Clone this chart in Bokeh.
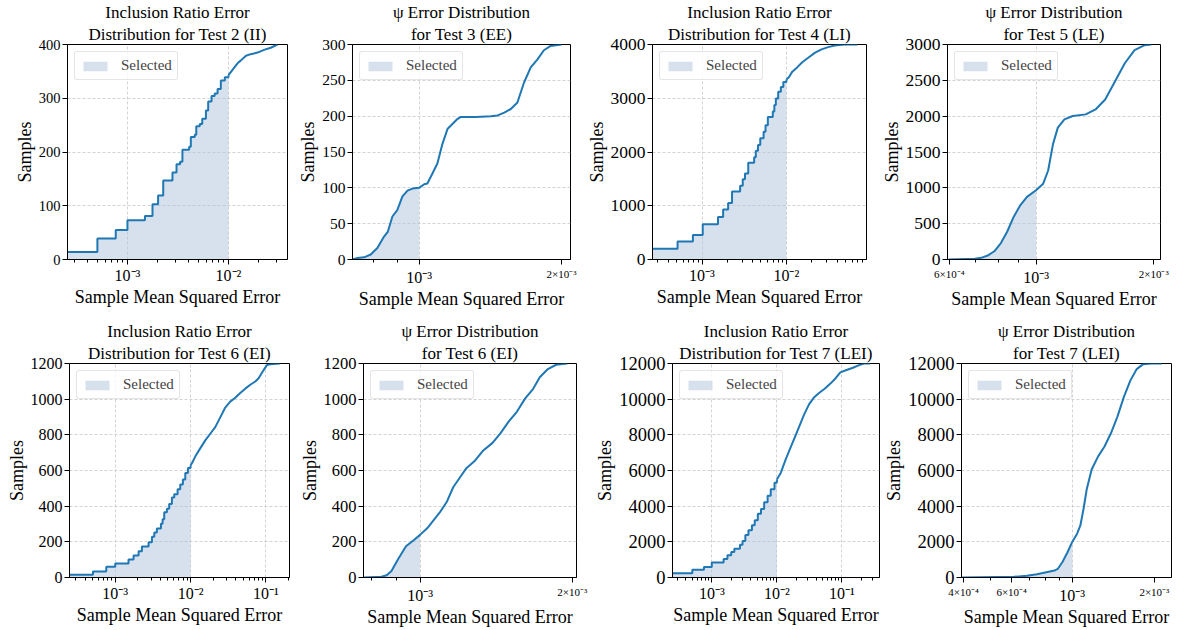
import numpy as np
from bokeh.plotting import figure
from bokeh.models import Range1d, FixedTicker, CustomJSTickFormatter, Title, LogAxis
from bokeh.layouts import row, column
from bokeh.embed import file_html
from bokeh.resources import INLINE

FONT = "Liberation Serif"
BLUE = "#1f77b4"
FILL = "#b0c4de"

# ---------------- data ----------------
# Test 2 (II) inclusion ratio error, step CDF (value holds from x onward)
t2_x = [2.0e-4, 5.04e-4, 7.66e-4, 1.0e-3, 1.49e-3, 1.77e-3, 2.01e-3, 2.26e-3, 2.79e-3, 3.06e-3,
        3.32e-3, 3.5e-3, 4.08e-3, 4.24e-3, 4.64e-3, 4.8e-3, 5.2e-3, 5.5e-3, 5.98e-3, 6.3e-3,
        6.8e-3, 7.3e-3, 7.8e-3, 8.4e-3, 9.2e-3, 1.0e-2, 1.14e-2, 1.23e-2, 1.32e-2, 1.49e-2,
        1.66e-2, 1.94e-2, 2.25e-2, 2.62e-2, 3.05e-2]
t2_y = [14, 39, 55, 73, 81, 103, 119, 147, 162, 177,
        182, 204, 210, 228, 232, 248, 252, 262, 277, 294,
        304, 309, 317, 333, 339, 343, 357, 365, 370, 379,
        382, 385, 390, 394, 400]

# Test 3 (EE) psi error, smooth CDF
t3_x = [7.23e-4, 7.41e-4, 7.65e-4, 7.9e-4, 8.16e-4, 8.43e-4, 8.59e-4, 8.78e-4, 8.99e-4, 9.22e-4,
        9.45e-4, 9.68e-4, 1.0e-3, 1.025e-3, 1.041e-3, 1.067e-3, 1.093e-3, 1.12e-3, 1.148e-3, 1.176e-3,
        1.205e-3, 1.225e-3, 1.32e-3, 1.418e-3, 1.466e-3, 1.514e-3, 1.563e-3, 1.614e-3, 1.64e-3, 1.667e-3,
        1.722e-3, 1.778e-3, 1.836e-3, 1.897e-3, 2.0e-3]
t3_y = [0, 2, 3, 7, 16, 32, 39, 60, 69, 88,
        96, 99, 100, 105, 106, 120, 134, 161, 182, 189,
        196, 199, 199, 200, 201, 205, 210, 219, 233, 247,
        268, 279, 292, 298, 300]

# Test 4 (LI) inclusion ratio error, step CDF
t4_x = [2.0e-4, 5.13e-4, 7.8e-4, 1.02e-3, 1.546e-3, 1.78e-3, 2.04e-3, 2.27e-3, 2.83e-3, 3.04e-3,
        3.23e-3, 3.53e-3, 4.15e-3, 4.34e-3, 4.61e-3, 4.9e-3, 5.37e-3, 5.66e-3, 6.03e-3, 6.9e-3,
        7.2e-3, 7.5e-3, 8.0e-3, 8.6e-3, 9.2e-3, 1.0e-2, 1.07e-2, 1.175e-2, 1.34e-2, 1.53e-2,
        1.83e-2, 2.19e-2, 2.61e-2, 3.12e-2, 3.73e-2, 4.86e-2, 6.95e-2]
t4_y = [200, 334, 456, 657, 790, 930, 1052, 1264, 1374, 1495,
        1599, 1800, 1903, 2024, 2128, 2255, 2377, 2498, 2650, 2754,
        2875, 2997, 3119, 3210, 3301, 3350, 3392, 3495, 3574, 3666,
        3757, 3848, 3909, 3951, 3982, 4000, 4000]

# Test 5 (LE) psi error, smooth CDF
t5_x = [5.97e-4, 6.97e-4, 7.24e-4, 7.52e-4, 7.82e-4, 8.13e-4, 8.44e-4, 8.77e-4, 9.12e-4, 9.48e-4,
        1.0e-3, 1.043e-3, 1.074e-3, 1.105e-3, 1.137e-3, 1.182e-3, 1.241e-3, 1.34e-3, 1.42e-3, 1.503e-3,
        1.592e-3, 1.687e-3, 1.787e-3, 1.896e-3, 1.97e-3]
t5_y = [0, 9, 23, 55, 115, 230, 391, 598, 759, 874,
        966, 1058, 1242, 1610, 1840, 1955, 2002, 2025, 2094, 2232,
        2485, 2738, 2922, 2991, 3000]

# Test 6 (EI) inclusion ratio error, step CDF
t6i_x = [2.0e-4, 5.06e-4, 7.6e-4, 1.0e-3, 1.5e-3, 1.75e-3, 2.04e-3, 2.26e-3, 2.77e-3, 3.07e-3,
         3.3e-3, 3.57e-3, 4.04e-3, 4.25e-3, 4.47e-3, 4.85e-3, 5.2e-3, 5.65e-3, 6.07e-3, 6.72e-3,
         7.29e-3, 7.9e-3, 8.5e-3, 9.22e-3, 1.0e-2, 1.043e-2, 1.153e-2, 1.343e-2, 1.566e-2, 1.824e-2,
         2.125e-2, 2.476e-2, 2.885e-2, 3.36e-2, 3.92e-2, 4.56e-2, 5.32e-2, 6.2e-2, 7.22e-2, 8.0e-2,
         9.32e-2, 0.103, 0.114, 0.152]
t6i_y = [15, 33, 60, 79, 101, 123, 147, 174, 198, 229,
         253, 275, 302, 326, 366, 385, 412, 449, 467, 495,
         522, 550, 586, 614, 630, 641, 678, 724, 769, 806,
         843, 898, 953, 986, 1008, 1035, 1059, 1081, 1099, 1117,
         1163, 1191, 1196, 1200]

# Test 6 (EI) psi error, smooth CDF
t6p_x = [7.73e-4, 8.39e-4, 8.59e-4, 8.78e-4, 9.04e-4, 9.38e-4, 9.74e-4, 1.0e-3, 1.033e-3, 1.064e-3,
         1.096e-3, 1.129e-3, 1.163e-3, 1.199e-3, 1.235e-3, 1.282e-3, 1.33e-3, 1.391e-3, 1.443e-3, 1.497e-3,
         1.554e-3, 1.613e-3, 1.674e-3, 1.725e-3, 1.79e-3, 1.858e-3, 1.955e-3]
t6p_y = [0, 4, 13, 37, 101, 175, 212, 239, 276, 322,
         368, 423, 506, 561, 613, 653, 709, 755, 810, 874,
         929, 1003, 1058, 1123, 1169, 1193, 1200]

# Test 7 (LEI) inclusion ratio error, step CDF
t7i_x = [2.0e-4, 5.02e-4, 7.58e-4, 1.0e-3, 1.52e-3, 1.74e-3, 1.99e-3, 2.22e-3, 2.71e-3, 2.97e-3,
         3.28e-3, 3.66e-3, 4.14e-3, 4.57e-3, 5.1e-3, 5.71e-3, 6.38e-3, 7.21e-3, 8.05e-3, 9.2e-3,
         1.0e-2, 1.148e-2, 1.358e-2, 1.604e-2, 1.894e-2, 2.236e-2, 2.64e-2, 3.12e-2, 3.68e-2, 4.35e-2,
         5.43e-2, 6.78e-2, 8.01e-2, 9.46e-2, 0.118, 0.1475, 0.184, 0.217, 0.2716]
t7i_y = [238, 440, 586, 843, 1044, 1246, 1429, 1612, 1832, 2052,
         2382, 2656, 2931, 3206, 3573, 3847, 4214, 4580, 4947, 5313,
         5500, 5863, 6595, 7237, 7878, 8519, 9160, 9710, 10076, 10314,
         10589, 10901, 11176, 11505, 11634, 11762, 11908, 12000, 12000]

# Test 7 (LEI) psi error, smooth CDF
t7p_x = [3.95e-4, 6.12e-4, 6.83e-4, 7.42e-4, 8.04e-4, 8.61e-4, 8.85e-4, 9.22e-4, 9.6e-4, 1.0e-3,
         1.042e-3, 1.071e-3, 1.1e-3, 1.13e-3, 1.178e-3, 1.244e-3, 1.313e-3, 1.386e-3, 1.463e-3, 1.545e-3,
         1.632e-3, 1.723e-3, 1.819e-3, 1.948e-3, 2.13e-3]
t7p_y = [0, 37, 92, 185, 295, 388, 480, 886, 1403, 1994,
         2455, 2917, 3840, 4948, 6055, 6794, 7348, 8086, 9009, 10117,
         11040, 11686, 11963, 12000, 12000]

titles = [
    ("Inclusion Ratio Error", "Distribution for Test 2 (II)"),
    ("\u03c8 Error Distribution", "for Test 3 (EE)"),
    ("Inclusion Ratio Error", "Distribution for Test 4 (LI)"),
    ("\u03c8 Error Distribution", "for Test 5 (LE)"),
    ("Inclusion Ratio Error", "Distribution for Test 6 (EI)"),
    ("\u03c8 Error Distribution", "for Test 6 (EI)"),
    ("Inclusion Ratio Error", "Distribution for Test 7 (LEI)"),
    ("\u03c8 Error Distribution", "for Test 7 (LEI)"),
]
x_limits = [(2.55e-4, 3.84e-2), (7.23e-4, 2.09e-3), (2.59e-4, 8.9e-2), (5.935e-4, 2.082e-3),
            (2.47e-4, 0.2056), (7.73e-4, 2.039e-3), (2.49e-4, 0.378), (3.93e-4, 2.31e-3)]
y_max = [400, 300, 4000, 3000, 1200, 1200, 12000, 12000]
y_step = [100, 50, 1000, 500, 200, 200, 2000, 2000]
kinds = ["step", "line", "step", "line", "step", "line", "step", "line"]
thresholds = [1e-2, 1e-3, 1e-2, 1e-3, 1e-2, 1e-3, 1e-2, 1e-3]
series = [(t2_x, t2_y), (t3_x, t3_y), (t4_x, t4_y), (t5_x, t5_y),
          (t6i_x, t6i_y), (t6p_x, t6p_y), (t7i_x, t7i_y), (t7p_x, t7p_y)]
# minor tick positions that carry a small label in the psi panels
small_label_ticks = [[], [2e-3], [], [6e-4, 2e-3], [], [2e-3], [], [4e-4, 6e-4, 2e-3]]
ytick_font = ["14.5px", "15.5px", "17.5px", "17.5px", "16px", "16.5px", "18.5px", "18.5px"]

# layout: (width, height, left, right, top, bottom)
dims = [(295, 311, 67, 8, 42, 50), (288, 311, 57, 13, 42, 50),
        (295, 311, 64, 12, 42, 50), (294, 311, 65, 12, 42, 50),
        (296, 318, 69, 7, 52, 48), (296, 318, 62, 16, 52, 48),
        (289, 318, 68, 2, 52, 48), (295, 318, 75, 5, 52, 48)]

minor = [m * 10.0 ** e for e in range(-5, 0) for m in range(2, 10)]
big_fmt = CustomJSTickFormatter(code=r"""
const e = Math.round(Math.log10(tick));
const m = {"-1": "\u207b\u00b9", "-2": "\u207b\u00b2", "-3": "\u207b\u00b3", "-4": "\u207b\u2074"};
return "10" + m[String(e)];
""")
small_fmt = CustomJSTickFormatter(code=r"""
const e = Math.floor(Math.log10(tick) + 1e-9);
const mant = Math.round(tick / Math.pow(10, e));
if (mant == 1) { return ""; }
const m = {"-3": "\u207b\u00b3", "-4": "\u207b\u2074", "-5": "\u207b\u2075"};
return mant + "\u00d710" + m[String(e)];
""")


def style_axis(ax):
    ax.major_label_text_font = FONT
    ax.major_label_text_font_size = "15px"
    ax.major_label_text_color = "black"
    ax.axis_label_text_font = FONT
    ax.axis_label_text_font_size = "18px"
    ax.axis_label_text_font_style = "normal"
    ax.axis_label_text_color = "black"
    ax.axis_line_color = "black"
    ax.major_tick_line_color = "black"
    ax.minor_tick_line_color = "black"
    ax.major_tick_out = 5
    ax.major_tick_in = 0
    ax.minor_tick_out = 3
    ax.minor_tick_in = 0
    ax.axis_label_standoff = 1
    ax.major_label_standoff = 2


def make(i):
    w, h, bl, br, bt, bb = dims[i]
    x0, x1 = x_limits[i]
    p = figure(width=w, height=h, x_axis_type="log", title=None,
               x_range=Range1d(x0, x1), y_range=Range1d(0, y_max[i]),
               output_backend="svg", toolbar_location=None,
               min_border_left=bl, min_border_right=br,
               min_border_top=bt, min_border_bottom=bb)
    xs = np.array(series[i][0], dtype=float)
    ys = np.array(series[i][1], dtype=float)
    sel = xs <= thresholds[i] * 1.0000001
    k = int(np.nonzero(sel)[0][-1])
    if kinds[i] == "step":
        p.varea_step(x=xs[sel], y1=0, y2=ys[sel], step_mode="after",
                     fill_color=FILL, fill_alpha=0.5, legend_label="Selected")
        p.step(xs[:k + 1], ys[:k + 1], mode="after", line_color=BLUE, line_width=2)
        p.line(xs[k:], ys[k:], line_color=BLUE, line_width=2)
    else:
        p.varea(x=xs[sel], y1=0, y2=ys[sel], fill_color=FILL, fill_alpha=0.5,
                legend_label="Selected")
        p.line(xs, ys, line_color=BLUE, line_width=2)

    line1, line2 = titles[i]
    for txt, so in ((line2, 2), (line1, 0)):
        p.add_layout(Title(text=txt, align="center", text_font=FONT, text_font_size="17px",
                           text_font_style="normal", text_color="black", standoff=so), "above")

    style_axis(p.yaxis[0])
    p.yaxis.ticker = FixedTicker(ticks=list(range(0, y_max[i] + 1, y_step[i])), minor_ticks=[])
    p.yaxis.major_label_text_font_size = ytick_font[i]
    p.yaxis.axis_label = "Samples"

    ax = p.xaxis[0]
    style_axis(ax)
    if kinds[i] == "step":
        major = [1e-4, 1e-3, 1e-2, 1e-1]
        ax.ticker = FixedTicker(ticks=major, minor_ticks=minor)
        ax.formatter = big_fmt
        ax.major_label_text_font_size = "16px"
        ax.axis_label_standoff = 0
        ax.axis_label = "Sample Mean Squared Error"
        p.xgrid.ticker = FixedTicker(ticks=major)
    else:
        major = [1e-3]
        # inner axis: all ticks, small labels on labelled minor positions
        ax.ticker = FixedTicker(ticks=major + small_label_ticks[i], minor_ticks=minor)
        ax.formatter = small_fmt
        ax.major_label_text_font_size = "11px"
        ax.major_label_standoff = 3
        # outer axis: big decade label and the axis title
        ax2 = LogAxis(ticker=FixedTicker(ticks=major, minor_ticks=[]), formatter=big_fmt)
        style_axis(ax2)
        ax2.axis_line_color = None
        ax2.major_tick_line_color = None
        ax2.minor_tick_line_color = None
        ax2.major_tick_out = 0
        ax2.minor_tick_out = 0
        ax2.major_label_standoff = -14
        ax2.major_label_text_font_size = "16px"
        ax2.axis_label_standoff = 0
        ax2.axis_label = "Sample Mean Squared Error"
        p.add_layout(ax2, "below")
        p.xgrid.ticker = FixedTicker(ticks=major)

    p.grid.grid_line_color = "#c8c8c8"
    p.grid.grid_line_dash = "3 2"
    p.grid.grid_line_width = 0.8
    p.outline_line_color = "black"
    p.outline_line_alpha = 1.0
    p.outline_line_width = 1

    lg = p.legend[0]
    lg.location = "top_left"
    lg.margin = 7
    lg.padding = 5
    lg.spacing = 0
    lg.glyph_width = 30
    lg.glyph_height = 12
    lg.label_height = 16
    lg.label_standoff = 11
    lg.label_text_font = FONT
    lg.label_text_font_size = "15px"
    lg.border_line_color = "#cccccc"
    lg.background_fill_alpha = 0.8
    if hasattr(lg, "border_radius"):
        lg.border_radius = 3
    return p


plots = [make(i) for i in range(8)]
layout = column(row(*plots[:4]), row(*plots[4:]))
open("out.html", "w", encoding="utf-8").write(file_html(layout, INLINE))
